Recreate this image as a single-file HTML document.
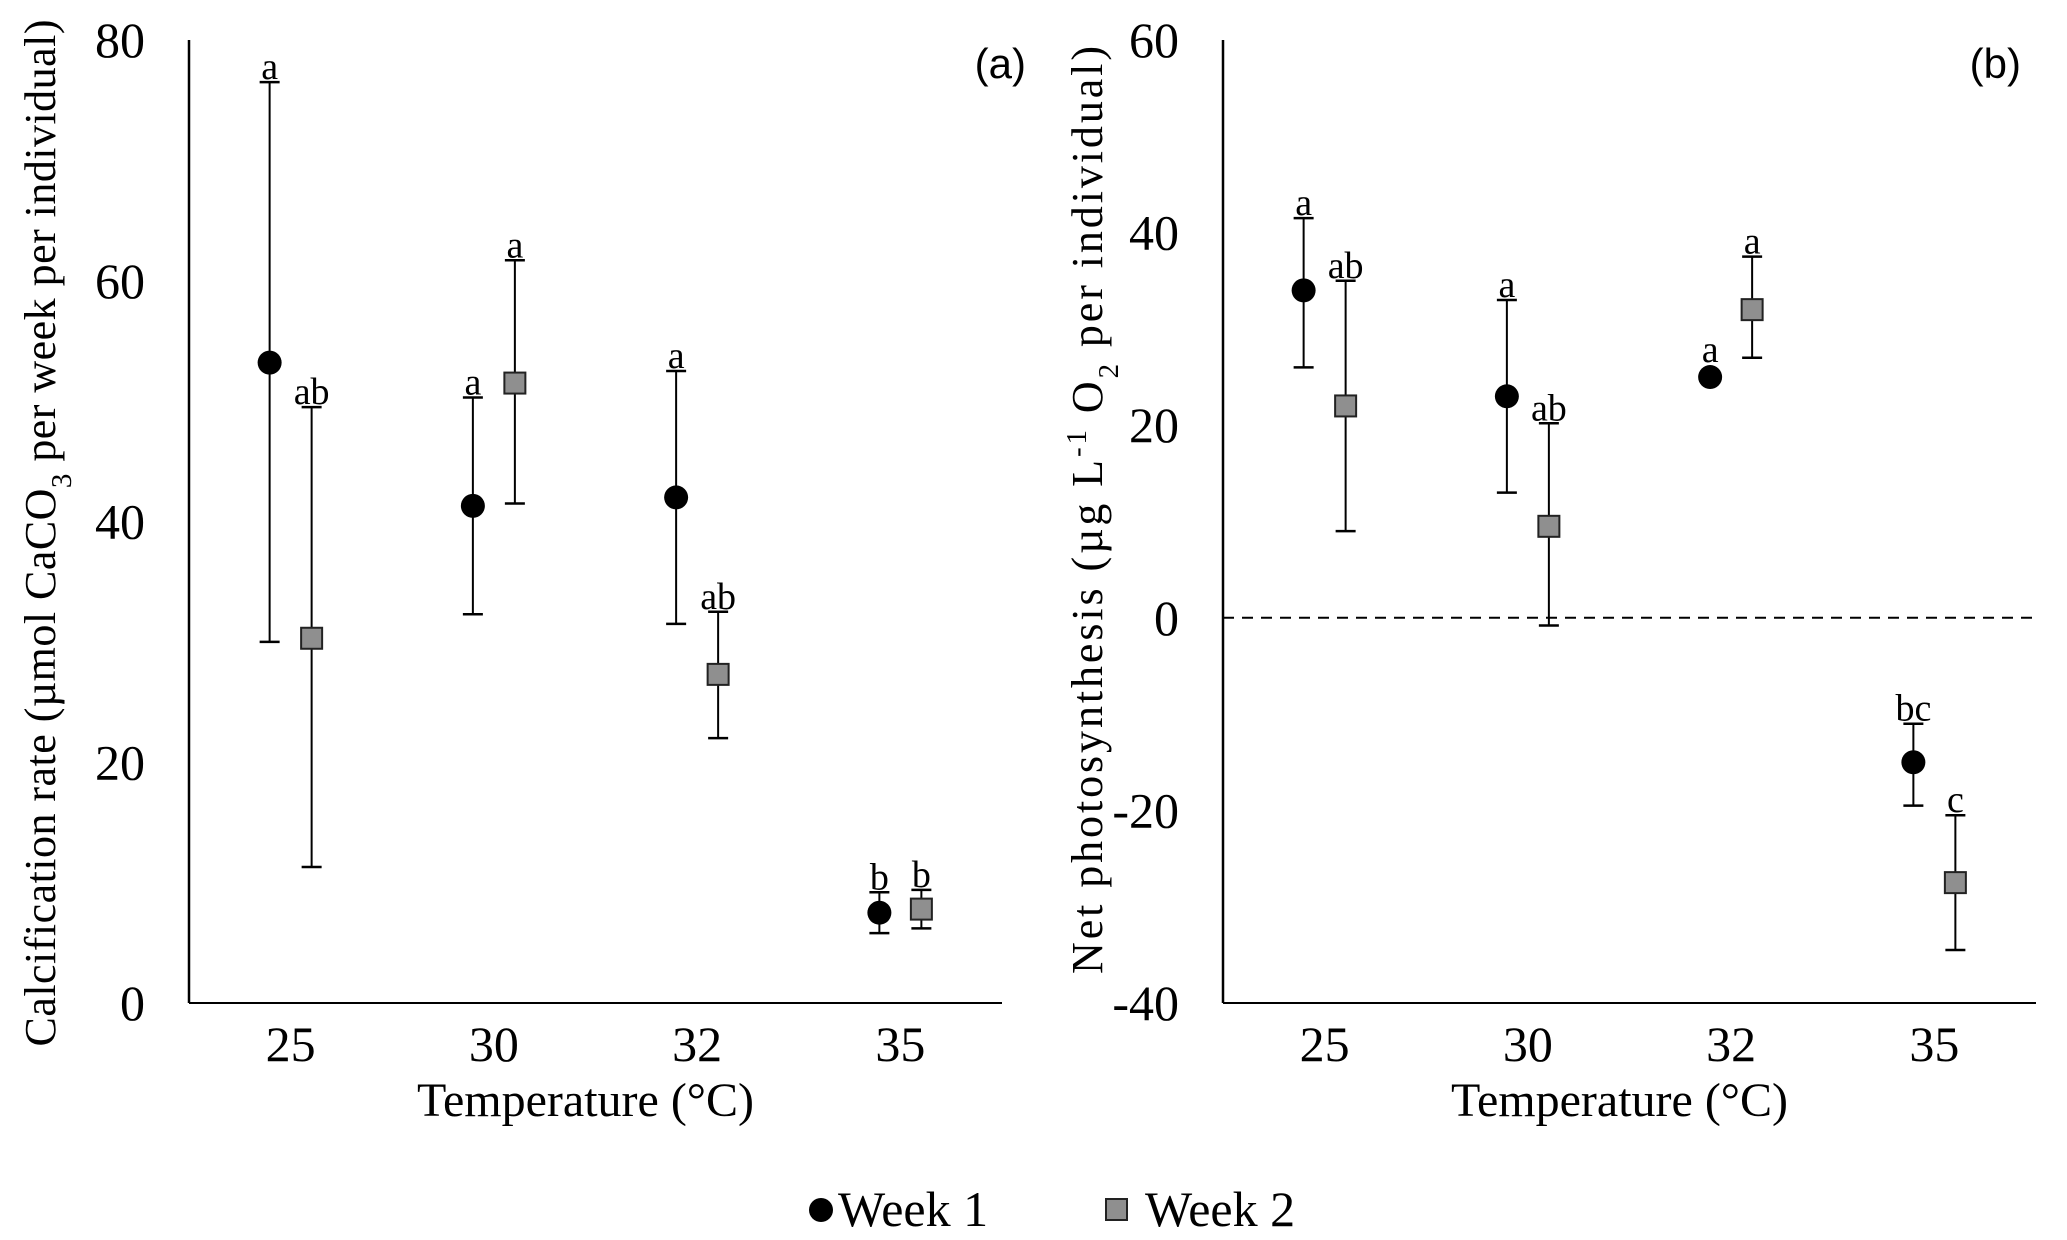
<!DOCTYPE html>
<html><head><meta charset="utf-8"><style>
html,body{margin:0;padding:0;background:#fff;}
svg{display:block;font-family:"Liberation Serif",serif;}
</style></head><body>
<svg id="fig" width="2067" height="1240" viewBox="0 0 2067 1240" xmlns="http://www.w3.org/2000/svg"></svg>
<script>
const categories = ["25","30","32","35"];
// Panel a: calcification
const calcW1 = [53.2, 41.3, 42.0, 7.5];
const calcW1Lo = [30.0, 32.3, 31.5, 5.8];
const calcW1Hi = [76.5, 50.3, 52.5, 9.2];
const calcW2 = [30.3, 51.5, 27.3, 7.8];
const calcW2Lo = [11.3, 41.5, 22.0, 6.2];
const calcW2Hi = [49.5, 61.7, 32.5, 9.4];
const calcL1 = ["a","a","a","b"];
const calcL2 = ["ab","a","ab","b"];
const calcTicks = [0,20,40,60,80];
// Panel b: net photosynthesis
const photoW1 = [34.0, 23.0, 25.0, -15.0];
const photoW1Lo = [26.0, 13.0, 25.0, -19.5];
const photoW1Hi = [41.5, 33.0, 25.0, -11.0];
const photoW2 = [22.0, 9.5, 32.0, -27.5];
const photoW2Lo = [9.0, -0.8, 27.0, -34.5];
const photoW2Hi = [35.0, 20.2, 37.5, -20.5];
const photoL1 = ["a","a","a","bc"];
const photoL2 = ["ab","ab","a","c"];
const photoTicks = [-40,-20,0,20,40,60];

const NS="http://www.w3.org/2000/svg";
const svg=document.getElementById('fig');
function mk(tag,attrs,parent,text){const e=document.createElementNS(NS,tag);for(const k in attrs)e.setAttribute(k,attrs[k]);if(text!==undefined)e.textContent=text;(parent||svg).appendChild(e);return e;}

function panel(cfg){
  const g=mk('g',{});
  
  
  const x0=cfg.x0,x1=cfg.x1,yT=40,yB=1003;
  const y=v=>yB-(v-cfg.min)/(cfg.max-cfg.min)*(yB-yT);
  const cw=(x1-x0)/categories.length;
  const cx=i=>x0+cw*(i+0.5);
  const ax=mk('line',{x1:x0,y1:yT,x2:x0,y2:yB,stroke:'#000','stroke-width':2.5},g);
  
  const xa=mk('line',{x1:x0,y1:yB,x2:x1,y2:yB,stroke:'#000','stroke-width':2},g);
  
  if(cfg.min<0){
    const z=mk('line',{x1:x0,y1:y(0),x2:x1,y2:y(0),stroke:'#000','stroke-width':2,'stroke-dasharray':'11,8'},g);
    
  }
  cfg.ticks.forEach(t=>{
    const tx=mk('text',{x:x0-44,y:y(t)+17,'text-anchor':'end','font-size':50},g,String(t));
    
  });
  categories.forEach((c,i)=>{
    const tx=mk('text',{x:cx(i),y:1061,'text-anchor':'middle','font-size':50},g,c);
    
  });
  const xt=mk('text',{x:(x0+x1)/2-10,y:1116,'text-anchor':'middle','font-size':48},g,'Temperature (°C)');
  
  const pl=mk('text',{x:cfg.labelX,y:78,'text-anchor':'end','font-size':42,'font-family':'"Liberation Sans",sans-serif'},g,cfg.label);
  
  const series=[
    {v:cfg.w1,lo:cfg.w1lo,hi:cfg.w1hi,l:cfg.l1,off:-21,shape:'circle',n:'week1'},
    {v:cfg.w2,lo:cfg.w2lo,hi:cfg.w2hi,l:cfg.l2,off:21,shape:'square',n:'week2'}];
  series.forEach(s=>{
    s.v.forEach((v,i)=>{
      const px=cx(i)+s.off;
      const yh=y(s.hi[i]),yl=y(s.lo[i]);
      if(s.hi[i]!==s.lo[i]){
        const el=mk('line',{x1:px,y1:yh,x2:px,y2:yl,stroke:'#000','stroke-width':2},g);
        
        mk('line',{x1:px-10,y1:yh,x2:px+10,y2:yh,stroke:'#000','stroke-width':2.5},g);
        mk('line',{x1:px-10,y1:yl,x2:px+10,y2:yl,stroke:'#000','stroke-width':2.5},g);
      }
      let m;
      if(s.shape==='circle') m=mk('circle',{cx:px,cy:y(v),r:12,fill:'#000'},g);
      else m=mk('rect',{x:px-10.5,y:y(v)-10.5,width:21,height:21,fill:'#8f8f8f',stroke:'#222','stroke-width':2},g);
      
      const ly=(s.hi[i]!==s.lo[i]?yh:y(v)-12)-3;
      const lt=mk('text',{x:px,y:ly,'text-anchor':'middle','font-size':38},g,s.l[i]);
      
    });
  });
  return g;
}
panel({name:'panel-a',x0:189,x1:1002,min:0,max:80,ticks:calcTicks,label:'(a)',labelX:1026,
  w1:calcW1,w1lo:calcW1Lo,w1hi:calcW1Hi,w2:calcW2,w2lo:calcW2Lo,w2hi:calcW2Hi,l1:calcL1,l2:calcL2});
panel({name:'panel-b',x0:1223,x1:2036,min:-40,max:60,ticks:photoTicks,label:'(b)',labelX:2021,
  w1:photoW1,w1lo:photoW1Lo,w1hi:photoW1Hi,w2:photoW2,w2lo:photoW2Lo,w2hi:photoW2Hi,l1:photoL1,l2:photoL2});
</script>
<script>
(function(){
const NS="http://www.w3.org/2000/svg";const svg=document.getElementById('fig');
function t(x,y,len,parts,name){const e=document.createElementNS(NS,'text');e.setAttribute('transform','translate('+x+','+y+') rotate(-90)');e.setAttribute('text-anchor','middle');e.setAttribute('font-size','44');
e.setAttribute('textLength',len);e.setAttribute('lengthAdjust','spacing');


parts.forEach(p=>{const s=document.createElementNS(NS,'tspan');s.textContent=p[0];if(p[1]){s.setAttribute('baseline-shift',p[1]);s.setAttribute('font-size','29');}e.appendChild(s);});svg.appendChild(e);}
t(55,533,1027,[["Calcification rate (µmol CaCO"],["3","sub"],[" per week per individual)"]],'y-axis-title-a');
t(1102,510,928,[["Net photosynthesis (µg L"],["-1","super"],[" O"],["2","sub"],[" per individual)"]],'y-axis-title-b');
function add(tag,a,txt){const e=document.createElementNS(NS,tag);for(const k in a)e.setAttribute(k,a[k]);if(txt)e.textContent=txt;svg.appendChild(e);return e;}
let c=add('circle',{cx:821,cy:1210,r:12,fill:'#000'});


let l1=add('text',{x:838,y:1226,'font-size':50},'Week 1');


let r=add('rect',{x:1106,y:1199,width:21,height:21,fill:'#8f8f8f',stroke:'#222','stroke-width':2});


let l2=add('text',{x:1145,y:1226,'font-size':50},'Week 2');


})();
</script>
</body></html>
